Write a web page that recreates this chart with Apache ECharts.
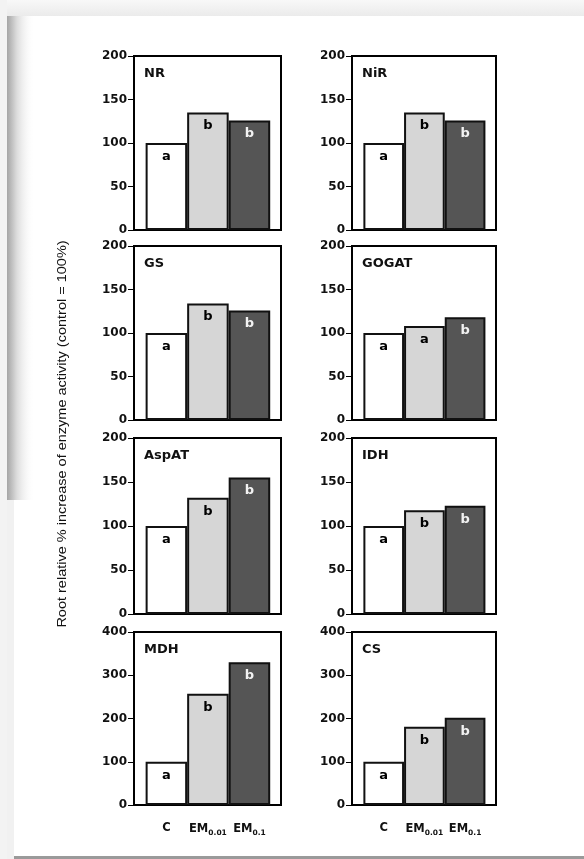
<!DOCTYPE html>
<html>
<head>
<meta charset="utf-8">
<script src="https://cdn.jsdelivr.net/npm/echarts@6/dist/echarts.min.js"></script>
<style>
  html, body { margin: 0; padding: 0; background: #fff; }
  #chart { width: 584px; height: 859px; }
</style>
</head>
<body>
<div id="chart"></div>
<script>
// Treatments on the x axis
const categories = ['C', 'EM0.01', 'EM0.1'];

// Enzyme panels, left-to-right, top-to-bottom
const enzymes = ['NR', 'NiR', 'GS', 'GOGAT', 'AspAT', 'IDH', 'MDH', 'CS'];

// Root enzyme activity relative to control (%)
const NR    = [100, 135, 126];
const NiR   = [100, 135, 126];
const GS    = [100, 134, 126];
const GOGAT = [100, 108, 118];
const AspAT = [100, 132, 155];
const IDH   = [100, 118, 123];
const MDH   = [100, 257, 330];
const CS    = [100, 181, 202];

// Significance letters on each bar
const NR_sig    = ['a', 'b', 'b'];
const NiR_sig   = ['a', 'b', 'b'];
const GS_sig    = ['a', 'b', 'b'];
const GOGAT_sig = ['a', 'a', 'b'];
const AspAT_sig = ['a', 'b', 'b'];
const IDH_sig   = ['a', 'b', 'b'];
const MDH_sig   = ['a', 'b', 'b'];
const CS_sig    = ['a', 'b', 'b'];

// Y tick labels
const ticks200 = [0, 50, 100, 150, 200];
const ticks400 = [0, 100, 200, 300, 400];

const yTitle = 'Root relative % increase of enzyme activity (control = 100%)';

const values  = [NR, NiR, GS, GOGAT, AspAT, IDH, MDH, CS];
const letters = [NR_sig, NiR_sig, GS_sig, GOGAT_sig, AspAT_sig, IDH_sig, MDH_sig, CS_sig];
const tickSets = [ticks200, ticks200, ticks200, ticks200, ticks200, ticks200, ticks400, ticks400];

// Layout of the 2 x 4 panel matrix
const colLeft  = [134, 352];
const colWidth = [147, 144];
const rowTop   = [56, 246, 438, 632];
const rowBot   = [230, 420, 614, 805];

const barFill  = ['#ffffff', '#d6d6d6', '#555555'];
const labelCol = ['#000000', '#000000', '#f2f2f2'];

const boldFont = 'DejaVu Sans';

function xLabel(v) {
  const name = categories[Math.round(v)];
  if (!name) return '';
  const m = name.match(/^([A-Z]+)(.*)$/);
  if (m[2]) return '{b|' + m[1] + '}{s|' + m[2] + '}';
  return '{b|' + m[1] + '}';
}

const grids = [], xAxes = [], yAxes = [], series = [], titles = [];

enzymes.forEach(function (name, i) {
  const col = i % 2, row = Math.floor(i / 2);
  const ticks = tickSets[i];
  const last = row === 3;
  grids.push({
    left: colLeft[col], width: colWidth[col],
    top: rowTop[row], height: rowBot[row] - rowTop[row],
    show: true, backgroundColor: '#fff', borderColor: '#000', borderWidth: 2
  });
  xAxes.push({
    gridIndex: i, type: 'value', min: -0.78, max: 2.76,
    axisLine: { show: true, onZero: false, lineStyle: { color: '#000', width: 2 } },
    axisTick: { show: false },
    splitLine: { show: false },
    axisLabel: {
      show: last, customValues: [0, 1, 2], margin: 17,
      formatter: xLabel,
      rich: {
        b: { fontFamily: boldFont, fontWeight: 'bold', fontSize: 11.5, color: '#111' },
        s: { fontFamily: boldFont, fontWeight: 'bold', fontSize: 7.5, color: '#111', padding: [7, 0, 0, 0] }
      }
    }
  });
  yAxes.push({
    gridIndex: i, type: 'value', min: ticks[0], max: ticks[ticks.length - 1],
    interval: ticks[1] - ticks[0],
    axisLine: { show: true, onZero: false, lineStyle: { color: '#000', width: 2 } },
    axisTick: { show: true, length: 6, lineStyle: { color: '#000', width: 1 } },
    splitLine: { show: false },
    axisLabel: { margin: 7, fontFamily: boldFont, fontWeight: 'bold', fontSize: 12, color: '#111' }
  });
  series.push({
    type: 'bar', xAxisIndex: i, yAxisIndex: i, barWidth: '100%',
    data: values[i].map(function (v, k) {
      return {
        value: [k, v],
        itemStyle: { color: barFill[k], borderColor: '#111', borderWidth: 2 },
        label: { color: labelCol[k] }
      };
    }),
    label: {
      show: true, position: 'insideTop', distance: 7,
      fontFamily: boldFont, fontWeight: 'bold', fontSize: 13,
      formatter: function (p) { return letters[i][p.dataIndex]; }
    },
    silent: true, animation: false
  });
  titles.push({
    text: name, left: colLeft[col] + 10, top: rowTop[row] + 11,
    padding: 0,
    textStyle: { fontFamily: boldFont, fontWeight: 'bold', fontSize: 13, color: '#111' }
  });
});

const chart = echarts.init(document.getElementById('chart'), null, { renderer: 'canvas' });
chart.setOption({
  backgroundColor: '#ffffff',
  animation: false,
  title: titles,
  grid: grids,
  xAxis: xAxes,
  yAxis: yAxes,
  series: series,
  graphic: [
    // page frame shading
    { type: 'rect', z: -10, shape: { x: 0, y: 0, width: 584, height: 16 },
      style: { fill: { type: 'linear', x: 0, y: 0, x2: 0, y2: 1,
        colorStops: [{ offset: 0, color: '#f8f8f8' }, { offset: 1, color: '#ebebeb' }] } } },
    { type: 'rect', z: -10, shape: { x: 0, y: 0, width: 7, height: 859 },
      style: { fill: '#f3f3f3' } },
    { type: 'rect', z: -10, shape: { x: 7, y: 16, width: 28, height: 484 },
      style: { fill: { type: 'linear', x: 0, y: 0, x2: 1, y2: 0,
        colorStops: [{ offset: 0, color: '#a5a5a5' }, { offset: 0.35, color: '#dcdcdc' }, { offset: 1, color: 'rgba(255,255,255,0)' }] } } },
    { type: 'rect', z: -10, shape: { x: 7, y: 500, width: 7, height: 359 },
      style: { fill: '#f1f1f1' } },
    { type: 'rect', z: -10, shape: { x: 14, y: 856, width: 570, height: 3 },
      style: { fill: '#9a9a9a' } },
    // shared y-axis title
    { type: 'text', x: 63, y: 434, rotation: Math.PI / 2, scaleX: 1.16,
      style: { text: yTitle, fontFamily: 'Liberation Sans, Arial', fontSize: 12.5, fill: '#111',
        align: 'center', verticalAlign: 'middle' } }
  ]
});
</script>
</body>
</html>
